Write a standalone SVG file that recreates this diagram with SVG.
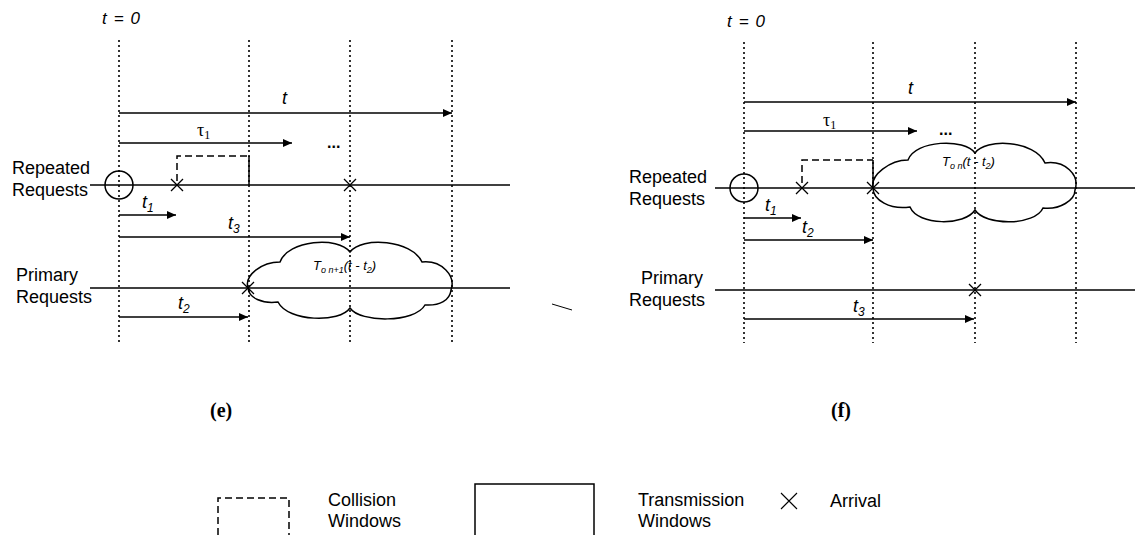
<svg xmlns="http://www.w3.org/2000/svg" width="1135" height="535" viewBox="0 0 1135 535">
<defs>
<marker id="ah" markerUnits="userSpaceOnUse" markerWidth="9" markerHeight="8" refX="9" refY="4" orient="auto">
<path d="M0,0 L9,4 L0,8 z" fill="#000"/>
</marker>
<style>
.dot{stroke:#000;stroke-width:1.6;stroke-dasharray:2 3;fill:none}
.ln{stroke:#000;stroke-width:1.5;fill:none}
.arr{stroke:#000;stroke-width:1.5;fill:none;marker-end:url(#ah)}
.x{stroke:#000;stroke-width:1.3;fill:none}
.dash{stroke:#000;stroke-width:1.5;stroke-dasharray:7 4;fill:none}
.cloud{stroke:#000;stroke-width:1.5;fill:none}
.lbl{font-family:"Liberation Sans",Arial,sans-serif;font-size:18px;fill:#000}
.it{font-family:"Liberation Sans",Arial,sans-serif;font-style:italic;fill:#000}
.tau{font-family:"Liberation Serif","Times New Roman",serif;fill:#000}
.cap{font-family:"Liberation Serif","Times New Roman",serif;font-weight:bold;font-size:20px;fill:#000}
.ell{font-family:"Liberation Sans",Arial,sans-serif;font-weight:bold;font-size:16px;fill:#000}
</style>
</defs>
<rect width="1135" height="535" fill="#fff"/>

<!-- Panel (e) -->
<g id="panel-e">
  <g id="e-axes">
    <text class="it" x="102" y="24" font-size="17" textLength="38">t = 0</text>
    <line class="dot" x1="119" y1="40" x2="119" y2="343"/>
    <line class="dot" x1="249" y1="40" x2="249" y2="343"/>
    <line class="dot" x1="350" y1="40" x2="350" y2="343"/>
    <line class="dot" x1="452" y1="40" x2="452" y2="343"/>
  </g>
  <g id="e-repeated">
    <text class="lbl" x="12" y="174">Repeated</text>
    <text class="lbl" x="12" y="196">Requests</text>
    <line class="ln" x1="90" y1="185" x2="510" y2="185"/>
    <circle class="ln" cx="119" cy="185" r="14"/>
    <path class="dash" d="M177,181 V156 H249"/>
    <line class="ln" x1="249" y1="156" x2="249" y2="185"/>
    <path class="x" d="M171,179 L183,191 M171,191 L183,179"/>
    <path class="x" d="M344,179 L356,191 M344,191 L356,179"/>
  </g>
  <g id="e-primary">
    <text class="lbl" x="16" y="281">Primary</text>
    <text class="lbl" x="16" y="303">Requests</text>
    <line class="ln" x1="90" y1="288" x2="510" y2="288"/>
    <path class="x" d="M242,282 L254,294 M242,294 L254,282"/>
  </g>
  <g id="e-cloud">
    <path class="cloud" d="M248,288 C244,275 262,262 280,262 C288,240 338,236 350,252 C362,236 412,240 422,262 C442,260 456,276 451,290 C450,300 440,306 425,305 C415,323 360,323 350,308 C340,323 288,322 278,302 C262,304 249,298 248,288 Z"/>
    <text class="it" x="313" y="270" font-size="13">T<tspan font-size="9" dy="3">o n+1</tspan><tspan dy="-3">(t - t</tspan><tspan font-size="9" dy="3">2</tspan><tspan dy="-3">)</tspan></text>
  </g>
  <g id="e-labels">
    <text class="it" x="282" y="104" font-size="18">t</text>
    <text class="tau" x="197" y="136" font-size="18">τ<tspan font-size="12" dy="3">1</tspan></text>
    <text class="ell" x="327" y="148">...</text>
    <text class="it" x="142" y="208" font-size="18">t<tspan font-size="12" dy="4">1</tspan></text>
    <text class="it" x="228" y="229" font-size="18">t<tspan font-size="12" dy="4">3</tspan></text>
    <text class="it" x="178" y="309" font-size="18">t<tspan font-size="12" dy="4">2</tspan></text>
  </g>
  <text class="cap" x="210" y="417">(e)</text>
</g>

<!-- Panel (f) -->
<g id="panel-f">
  <g id="f-axes">
    <text class="it" x="727" y="27" font-size="17" textLength="38">t = 0</text>
    <line class="dot" x1="744" y1="42" x2="744" y2="343"/>
    <line class="dot" x1="873" y1="42" x2="873" y2="343"/>
    <line class="dot" x1="975" y1="42" x2="975" y2="343"/>
    <line class="dot" x1="1076" y1="42" x2="1076" y2="343"/>
  </g>
  <g id="f-repeated">
    <text class="lbl" x="629" y="183">Repeated</text>
    <text class="lbl" x="629" y="205">Requests</text>
    <line class="ln" x1="715" y1="188" x2="1135" y2="188"/>
    <circle class="ln" cx="744" cy="188" r="14"/>
    <path class="dash" d="M802,183 V160 H873"/>
    <line class="ln" x1="873" y1="160" x2="873" y2="188"/>
    <path class="x" d="M796,182 L808,194 M796,194 L808,182"/>
    <path class="x" d="M867,182 L879,194 M867,194 L879,182"/>
  </g>
  <g id="f-cloud">
    <path class="cloud" d="M873,188 C870,175 890,160 908,160 C915,140 965,138 975,153 C985,138 1035,140 1045,163 C1065,160 1080,175 1075,190 C1075,200 1060,210 1043,208 C1035,226 985,226 975,210 C965,226 918,226 910,207 C890,210 873,200 873,188 Z"/>
    <text class="it" x="942" y="166" font-size="13">T<tspan font-size="9" dy="3">o n</tspan><tspan dy="-3">(t - t</tspan><tspan font-size="9" dy="3">2</tspan><tspan dy="-3">)</tspan></text>
  </g>
  <g id="f-primary">
    <text class="lbl" x="641" y="284">Primary</text>
    <text class="lbl" x="629" y="306">Requests</text>
    <line class="ln" x1="715" y1="290" x2="1135" y2="290"/>
    <path class="x" d="M969,284 L981,296 M969,296 L981,284"/>
  </g>
  <g id="f-labels">
    <text class="it" x="908" y="94" font-size="18">t</text>
    <text class="tau" x="823" y="126" font-size="18">τ<tspan font-size="12" dy="3">1</tspan></text>
    <text class="ell" x="939" y="135">...</text>
    <text class="it" x="765" y="211" font-size="18">t<tspan font-size="12" dy="4">1</tspan></text>
    <text class="it" x="802" y="233" font-size="18">t<tspan font-size="12" dy="4">2</tspan></text>
    <text class="it" x="853" y="312" font-size="18">t<tspan font-size="12" dy="4">3</tspan></text>
  </g>
  <text class="cap" x="831" y="417">(f)</text>
</g>

<!-- Connectors (time arrows) -->
<g id="connectors">
  <line class="arr" x1="119" y1="113" x2="452" y2="113"/>
  <line class="arr" x1="119" y1="143" x2="292" y2="143"/>
  <line class="arr" x1="119" y1="215" x2="176" y2="215"/>
  <line class="arr" x1="119" y1="237" x2="350" y2="237"/>
  <line class="arr" x1="119" y1="317" x2="248" y2="317"/>
  <line class="arr" x1="744" y1="102" x2="1076" y2="102"/>
  <line class="arr" x1="744" y1="131" x2="917" y2="131"/>
  <line class="arr" x1="744" y1="218" x2="801" y2="218"/>
  <line class="arr" x1="744" y1="240" x2="873" y2="240"/>
  <line class="arr" x1="744" y1="319" x2="974" y2="319"/>
</g>

<line x1="552" y1="304" x2="572" y2="310" stroke="#000" stroke-width="1"/>

<!-- Legend -->
<g id="legend">
  <g id="legend-collision">
    <path class="dash" d="M218,535 V498 H289 V535"/>
    <text class="lbl" x="328" y="506">Collision</text>
    <text class="lbl" x="328" y="527">Windows</text>
  </g>
  <g id="legend-transmission">
    <rect class="ln" x="475" y="484" width="119" height="70"/>
    <text class="lbl" x="638" y="506">Transmission</text>
    <text class="lbl" x="638" y="527">Windows</text>
  </g>
  <g id="legend-arrival">
    <path d="M781,493 L797,509 M781,509 L797,493" stroke="#000" stroke-width="1.1" fill="none"/>
    <text class="lbl" x="830" y="507">Arrival</text>
  </g>
</g>
</svg>
